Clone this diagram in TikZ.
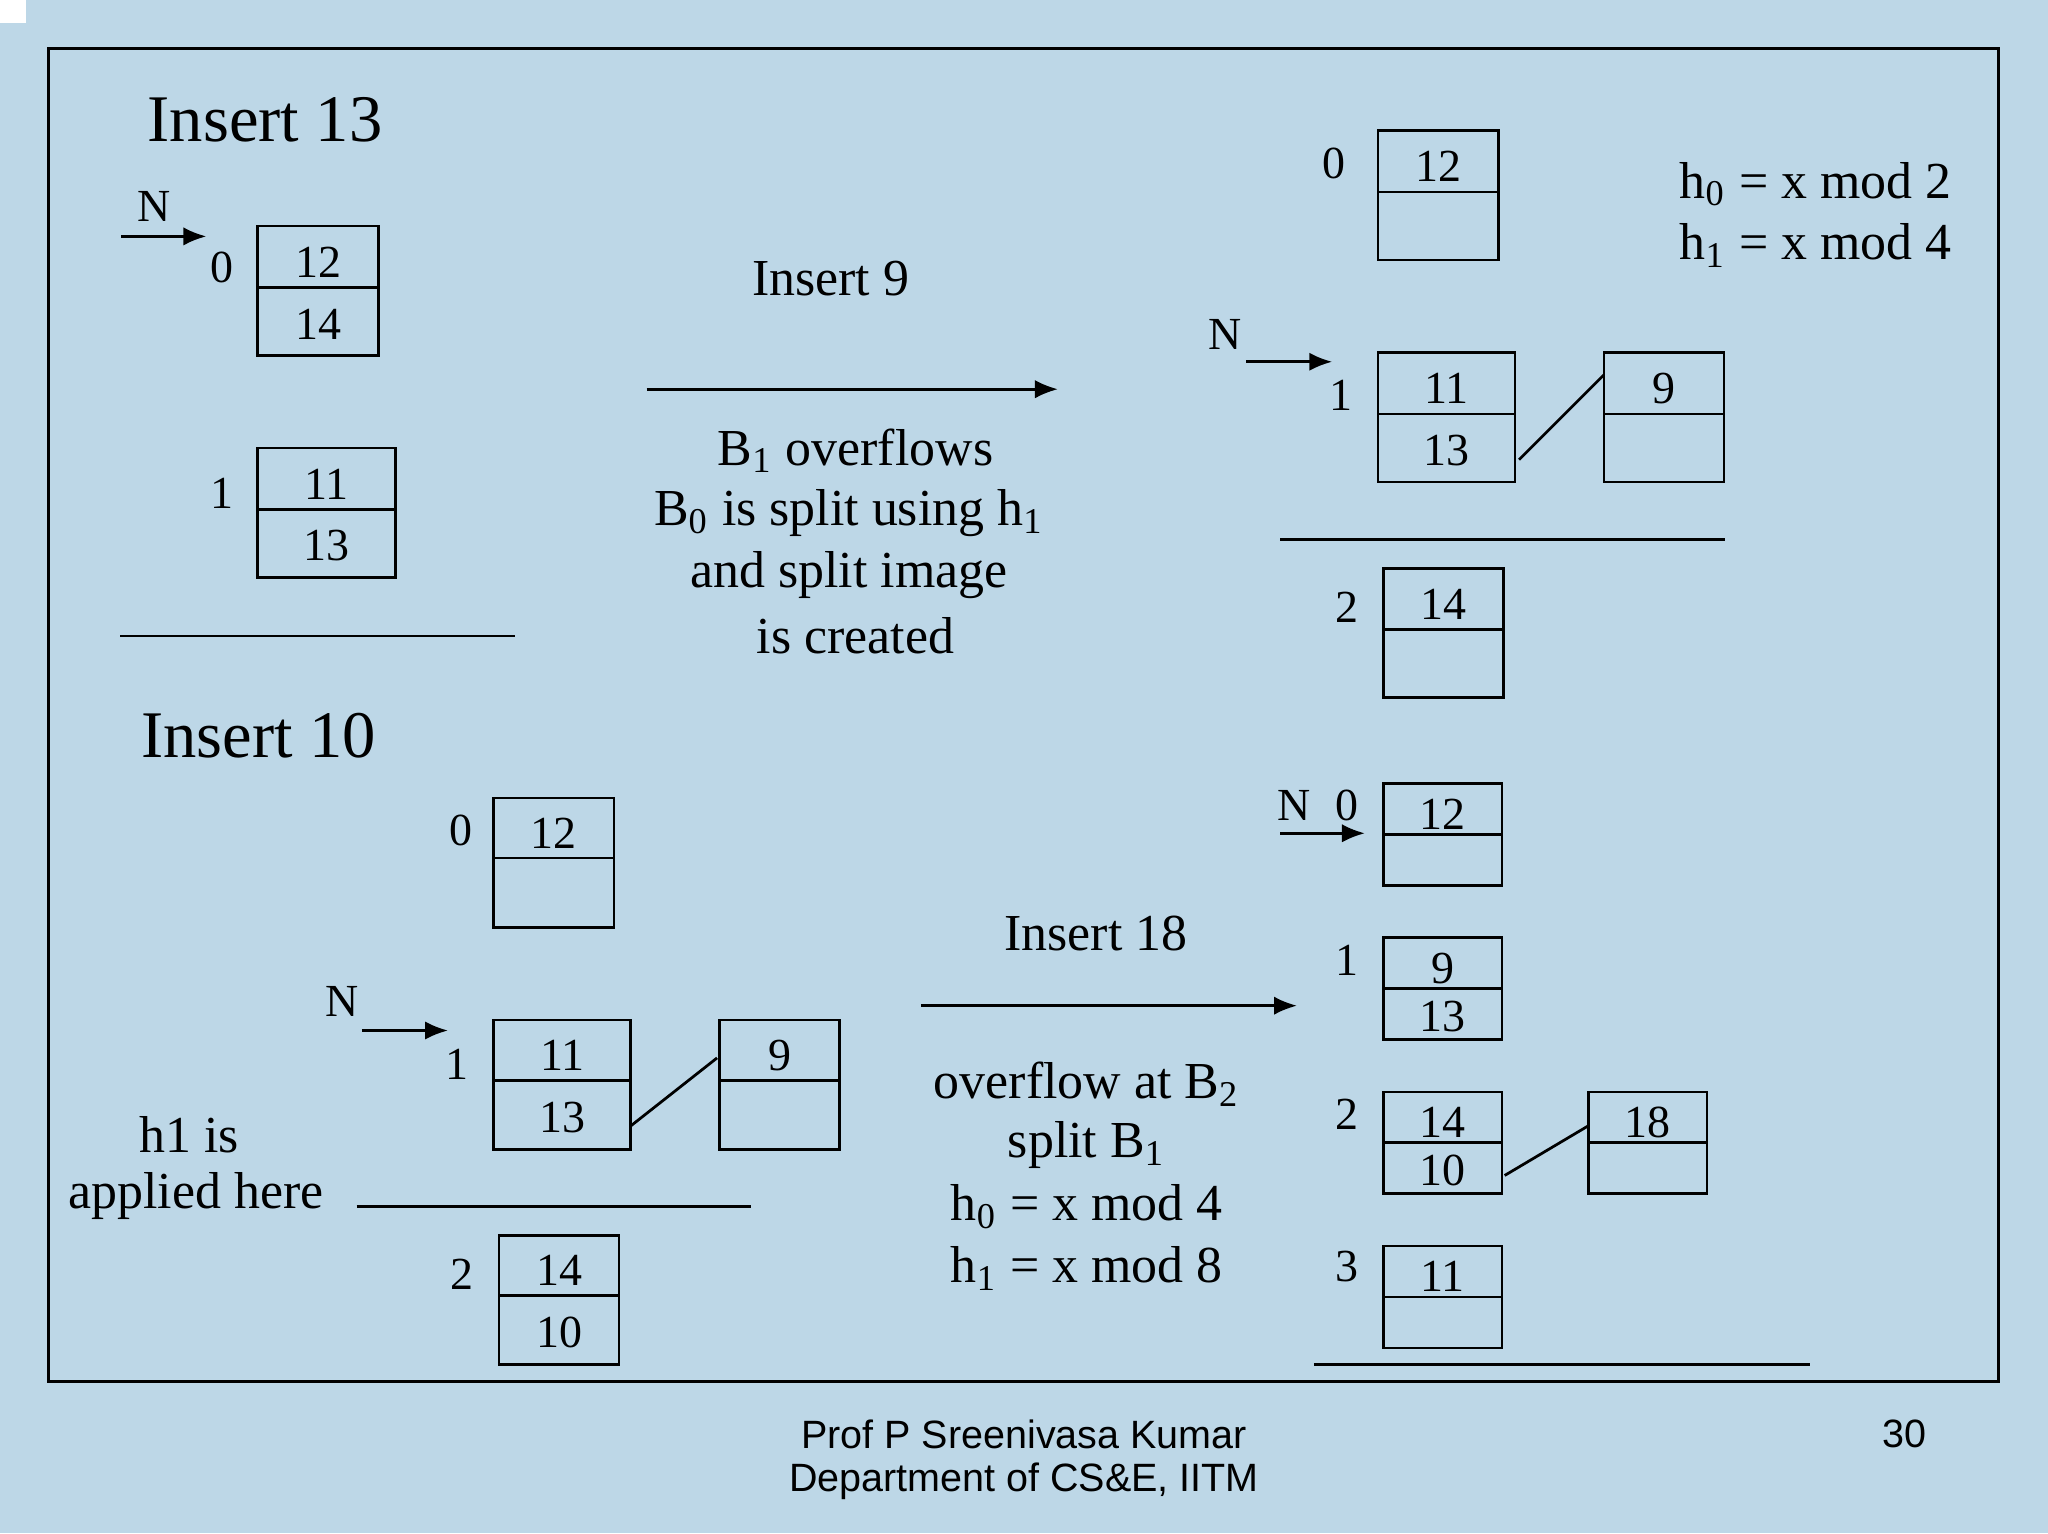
\documentclass[tikz,border=0pt]{standalone}
\usepackage{fontspec}
\setmainfont{Liberation Serif}
\newfontfamily\footfont{Liberation Sans}
\usetikzlibrary{arrows.meta}
\definecolor{bg}{HTML}{BDD7E7}
\newcommand{\bkt}[8]{%
  \draw[ln] (#2,#3) rectangle (#4,#6);
  \draw[ln] (#2,#5) -- (#4,#5);
  \coordinate (#1nw) at (#2,#3); \coordinate (#1se) at (#4,#6);
  \node[dg] (#1t) at ({(#2+#4)/2},{(#3+#5)/2+4}) {#7};
  \node[dg] (#1b) at ({(#2+#4)/2},{(#5+#6)/2+2}) {#8};}
\begin{document}
\begin{tikzpicture}[x=0.01cm,y=-0.01cm,
  ln/.style={line width=0.6pt,black},
  dg/.style={font=\fontsize{10}{12}\selectfont,inner sep=0},
  lb/.style={font=\fontsize{10}{12}\selectfont,inner sep=0},
  tt/.style={font=\fontsize{14.5}{17}\selectfont,inner sep=0},
  bd/.style={font=\fontsize{11.3}{14}\selectfont,inner sep=0},
  ar/.style={ln,-{Latex[length=5pt,width=4pt]}}]
\fill[bg] (0,0) rectangle (1568,1174);
\useasboundingbox (0,0) rectangle (1568,1174);
\fill[white] (0,0) rectangle (20,18);
\draw[ln] (37,37) rectangle (1530,1058);
% top-left
\node[tt] (i13) at (203,92) {Insert 13};
\node[lb] (n1) at (118,158) {N};
\coordinate (a1s) at (93,181); \coordinate (a1e) at (158,181);
\draw[ar] (a1s) -- (a1e);
\node[lb] (l0a) at (170,205) {0};
\bkt{A0}{197}{173}{290}{220}{272}{12}{14}
\node[lb] (l1a) at (170,378) {1};
\bkt{A1}{197}{343}{303}{390}{442}{11}{13}
\coordinate (s1a) at (92,487); \coordinate (s1b) at (394,487);
\draw[ln] (s1a) -- (s1b);
% insert 9
\node[bd] (i9) at (636,213) {Insert 9};
\coordinate (a2s) at (495,298); \coordinate (a2e) at (810,298);
\draw[ar] (a2s) -- (a2e);
\node[bd] (t1) at (655,345) {B\textsubscript{1} overflows};
\node[bd] (t2) at (650,393) {B\textsubscript{0} is split using h\textsubscript{1}};
\node[bd] (t3) at (650,440) {and split image};
\node[bd] (t4) at (655,487) {is created};
% top-right
\node[lb] (l0b) at (1021,125) {0};
\bkt{B0}{1055}{100}{1147}{147}{199}{12}{}
\node[lb] (n2) at (938,256) {N};
\coordinate (a3s) at (954,277); \coordinate (a3e) at (1020,277);
\draw[ar] (a3s) -- (a3e);
\node[lb] (l1b) at (1027,303) {1};
\bkt{B1}{1055}{270}{1160}{317}{369}{11}{13}
\bkt{B1o}{1228}{270}{1320}{317}{369}{9}{}
\coordinate (c1a) at (1163,352); \coordinate (c1b) at (1228,287);
\draw[ln] (c1a) -- (c1b);
\coordinate (s2a) at (980,413); \coordinate (s2b) at (1321,413);
\draw[ln] (s2a) -- (s2b);
\node[lb] (l2b) at (1031,465) {2};
\bkt{B2}{1059}{435}{1151}{482}{534}{14}{}
\node[bd] (h0a) at (1390,141) {h\textsubscript{0} = x mod 2};
\node[bd] (h1a) at (1390,188) {h\textsubscript{1} = x mod 4};
% insert 10
\node[tt] (i10) at (198,563) {Insert 10};
\node[lb] (l0c) at (353,636) {0};
\bkt{C0}{378}{611}{470}{657}{710}{12}{}
\node[lb] (n3) at (262,767) {N};
\coordinate (a4s) at (277,789); \coordinate (a4e) at (343,789);
\draw[ar] (a4s) -- (a4e);
\node[lb] (l1c) at (350,815) {1};
\bkt{C1}{378}{781}{483}{827}{880}{11}{13}
\bkt{C1o}{551}{781}{643}{827}{880}{9}{}
\coordinate (c2a) at (483,862); \coordinate (c2b) at (549,810);
\draw[ln] (c2a) -- (c2b);
\coordinate (s3a) at (273,924); \coordinate (s3b) at (575,924);
\draw[ln] (s3a) -- (s3b);
\node[lb] (l2c) at (354,976) {2};
\bkt{C2}{382}{946}{474}{992}{1045}{14}{10}
\node[bd] (h1x) at (145,869) {h1 is};
\node[bd] (h1y) at (150,916) {applied here};
% insert 18
\node[bd] (i18) at (839,715) {Insert 18};
\coordinate (a5s) at (705,770); \coordinate (a5e) at (993,770);
\draw[ar] (a5s) -- (a5e);
\node[bd] (u1) at (832,830) {overflow at B\textsubscript{2}};
\node[bd] (u2) at (832,877) {split B\textsubscript{1}};
\node[bd] (u3) at (832,924) {h\textsubscript{0} = x mod 4};
\node[bd] (u4) at (832,971) {h\textsubscript{1} = x mod 8};
% bottom-right
\node[lb] (n4) at (991,617) {N};
\node[lb] (l0d) at (1031,617) {0};
\coordinate (a6s) at (980,638); \coordinate (a6e) at (1045,638);
\draw[ar] (a6s) -- (a6e);
\bkt{D0}{1059}{600}{1150}{639}{678}{12}{}
\node[lb] (l1d) at (1031,735) {1};
\bkt{D1}{1059}{718}{1150}{757}{796}{9}{13}
\node[lb] (l2d) at (1031,853) {2};
\bkt{D2}{1059}{836}{1150}{875}{914}{14}{10}
\bkt{D2o}{1216}{836}{1307}{875}{914}{18}{}
\coordinate (c3a) at (1152,900); \coordinate (c3b) at (1216,862);
\draw[ln] (c3a) -- (c3b);
\node[lb] (l3d) at (1031,970) {3};
\bkt{D3}{1059}{954}{1150}{993}{1032}{11}{}
\coordinate (s4a) at (1006,1045); \coordinate (s4b) at (1386,1045);
\draw[ln] (s4a) -- (s4b);
% footer
\node[font=\footfont\fontsize{8.6}{10}\selectfont,inner sep=0] (f1) at (784,1098) {Prof P Sreenivasa Kumar};
\node[font=\footfont\fontsize{8.6}{10}\selectfont,inner sep=0] (f2) at (784,1134) {Department of CS\&E, IITM};
\node[font=\footfont\fontsize{8.6}{10}\selectfont,inner sep=0] (pg) at (1458,1098) {30};
\end{tikzpicture}
\end{document}
